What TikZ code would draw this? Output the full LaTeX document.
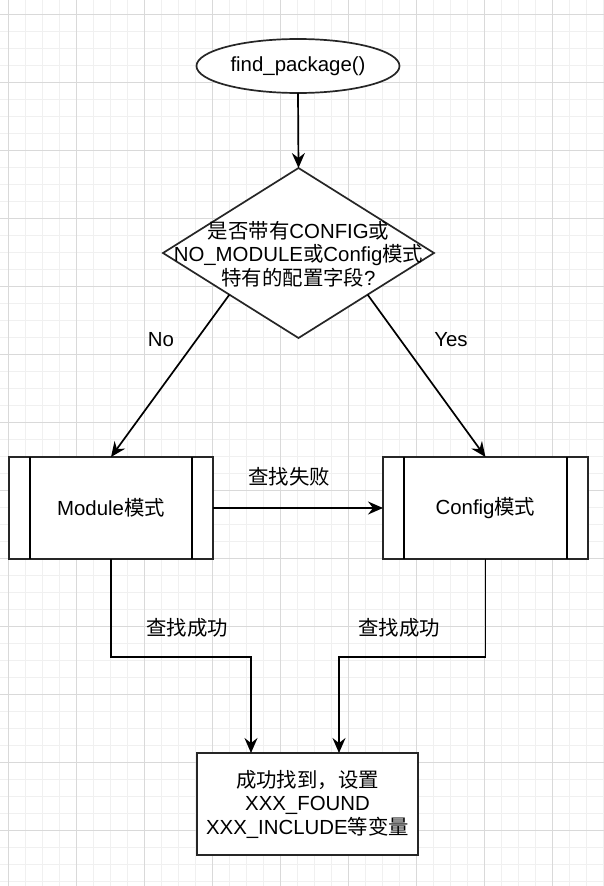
\documentclass[tikz,border=0pt]{standalone}
\usepackage{fontspec}
\setmainfont{Liberation Sans}
\newfontfamily\cjk{Noto Sans CJK SC}
\usetikzlibrary{shapes.geometric,arrows.meta,calc}
\begin{document}
\begin{tikzpicture}[x=1pt,y=-1pt,
  txt/.style={font=\fontsize{20.4pt}{23.5pt}\selectfont, align=center},
  shp/.style={draw=black!85, line width=1.7pt, fill=white, inner sep=0pt, outer sep=0pt},
  bar/.style={draw=black, line width=1.7pt},
  arr/.style={draw=black, line width=1.7pt, -{Stealth[length=15pt,width=13pt,inset=5pt]}},
  lbl/.style={txt, inner sep=0pt},
  gminor/.style={draw=black!6, line width=0.9pt},
  gmajor/.style={draw=black!15, line width=0.9pt}]
\fill[white] (0,0) rectangle (604,886);
\useasboundingbox (0,0) rectangle (604,886);
% grid
\foreach \i in {0,...,35} { \draw[gminor] ({8+17*\i},0) -- ({8+17*\i},886); }
\foreach \j in {0,...,51} { \draw[gminor] (0,{14+17*\j}) -- (604,{14+17*\j}); }
\foreach \i in {0,...,8} { \draw[gmajor] ({8+68*\i},0) -- ({8+68*\i},886); }
\foreach \j in {0,...,12} { \draw[gmajor] (0,{14+68*\j}) -- (604,{14+68*\j}); }

% shapes
\node[shp, ellipse, minimum width=203pt, minimum height=54pt] (ell) at (298,66) {};
\node[txt] (ellt) at (298,66) {find\_package()};

\node[shp, diamond, minimum width=271pt, minimum height=170pt] (dia) at (298.5,253) {};
\node[txt] (diat) at (298.5,254) {{\cjk 是否带有}CONFIG{\cjk 或}\\NO\_MODULE{\cjk 或}Config{\cjk 模式}\\{\cjk 特有的配置字段}?};

\node[shp, rectangle, minimum width=204pt, minimum height=102pt] (mod) at (111,508) {};
\draw[bar] ($(mod.north west)+(21,0)$) -- ($(mod.south west)+(21,0)$);
\draw[bar] ($(mod.north east)+(-21,0)$) -- ($(mod.south east)+(-21,0)$);
\node[txt] (modt) at (111,508) {Module{\cjk 模式}};

\node[shp, rectangle, minimum width=205pt, minimum height=102pt] (cfg) at (485.5,508) {};
\draw[bar] ($(cfg.north west)+(21,0)$) -- ($(cfg.south west)+(21,0)$);
\draw[bar] ($(cfg.north east)+(-21,0)$) -- ($(cfg.south east)+(-21,0)$);
\node[txt] (cfgt) at (485.5,508) {Config{\cjk 模式}};

\node[shp, rectangle, minimum width=221pt, minimum height=102pt] (res) at (307.5,804) {};
\node[txt] (rest) at (307.5,804) {{\cjk 成功找到，设置}\\XXX\_FOUND\\XXX\_INCLUDE{\cjk 等变量}};

% coordinates
\coordinate (dL) at ($(dia.west)!0.49!(dia.south)$);
\coordinate (dR) at ($(dia.east)!0.49!(dia.south)$);
\coordinate (eL) at (111,657);
\coordinate (eR) at (485.5,657);
\coordinate (rL) at (251,753);
\coordinate (rR) at (339,753);

% connectors
\draw[arr] (ell.south) -- (dia.north);
\draw[arr] (dL) -- (mod.north);
\draw[arr] (dR) -- (cfg.north);
\draw[arr] (mod.east) -- (cfg.west);
\draw[arr] (mod.south) -- (eL) -| (rL);
\draw[arr] (cfg.south) -- (eR) -| (rR);

% labels
\node[lbl] (lno) at (161,340) {No};
\node[lbl] (lyes) at (451,340) {Yes};
\node[lbl] (lfail) at (289,477) {\cjk 查找失败};
\node[lbl] (lok1) at (187,628) {\cjk 查找成功};
\node[lbl] (lok2) at (399,628) {\cjk 查找成功};
\end{tikzpicture}
\end{document}
